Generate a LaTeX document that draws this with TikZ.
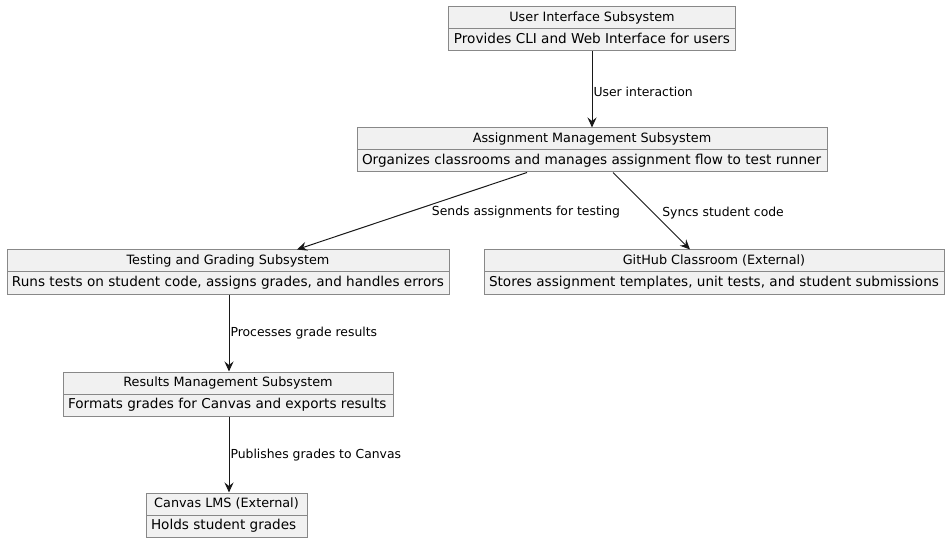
\documentclass[tikz,border=0pt]{standalone}
\usepackage{fontspec}
\setmainfont{DejaVu Sans}
\usetikzlibrary{shapes.multipart,arrows.meta}
\definecolor{boxfill}{HTML}{F1F1F1}
\definecolor{boxline}{HTML}{888888}
\definecolor{arrowcol}{HTML}{181818}
\newcommand{\partstrut}{\rule[-4pt]{0pt}{15pt}}
\newcommand{\desctext}{\fontsize{13.6}{15}\selectfont\partstrut}

\begin{document}
\begin{tikzpicture}[x=1pt,y=-1pt,
  subsys/.style={rectangle split,rectangle split parts=2,draw=boxline,fill=boxfill,line width=1pt,
    rectangle split part align={center,left},
    font=\fontsize{12.8}{14}\selectfont\partstrut,inner xsep=5pt,inner ysep=3pt},
  flow/.style={draw=arrowcol,line width=1pt,-{Stealth[length=10pt,width=9pt,inset=3.5pt]}},
  lbl/.style={font=\fontsize{12.4}{14}\selectfont,inner sep=1pt,text=black}]
\useasboundingbox (0,0) rectangle (950,545);
\node[subsys,minimum width=286pt] (ui) at (592,29) {User Interface Subsystem\nodepart{two}\desctext Provides CLI and Web Interface for users};
\node[subsys,minimum width=470pt] (am) at (592,150) {Assignment Management Subsystem\nodepart{two}\desctext Organizes classrooms and manages assignment flow to test runner};
\node[subsys,minimum width=442pt] (tg) at (228,272) {Testing and Grading Subsystem\nodepart{two}\desctext Runs tests on student code, assigns grades, and handles errors};
\node[subsys,minimum width=460pt] (gh) at (714,272) {GitHub Classroom (External)\nodepart{two}\desctext Stores assignment templates, unit tests, and student submissions};
\node[subsys,minimum width=330pt] (rm) at (228,394) {Results Management Subsystem\nodepart{two}\desctext Formats grades for Canvas and exports results};
\node[subsys,minimum width=161pt] (cv) at (226.5,515) {Canvas LMS (External)\nodepart{two}\desctext Holds student grades};
\draw[flow] (ui.south)--(am.north) node[lbl,midway,anchor=west,yshift=-2pt]{User interaction};
\draw[flow] ([xshift=-65pt]am.south)--([xshift=69pt]tg.north) node[lbl,pos=0.42,anchor=north west]{Sends assignments for testing};
\draw[flow] ([xshift=21pt]am.south)--([xshift=-24pt]gh.north) node[lbl,pos=0.53,anchor=west,xshift=7pt]{Syncs student code};
\draw[flow] ([xshift=1pt]tg.south)--([xshift=1pt]tg.south |- rm.north) node[lbl,midway,anchor=west]{Processes grade results};
\draw[flow] ([xshift=1pt]rm.south)--([xshift=1pt]rm.south |- cv.north) node[lbl,midway,anchor=west,yshift=-1pt]{Publishes grades to Canvas};
\end{tikzpicture}
\end{document}
